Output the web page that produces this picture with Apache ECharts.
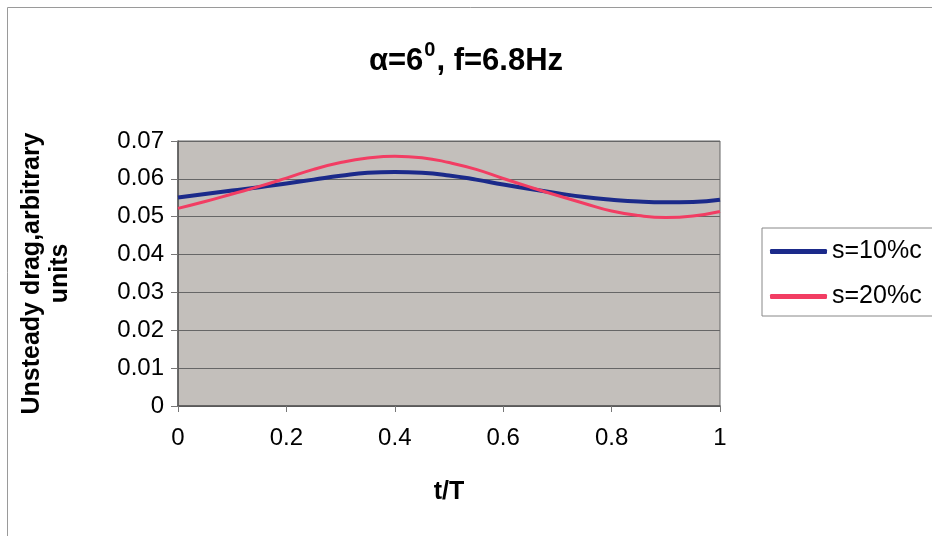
<!DOCTYPE html>
<html><head><meta charset="utf-8">
<script src="https://cdn.jsdelivr.net/npm/echarts@6/dist/echarts.min.js"></script>
<style>html,body{margin:0;padding:0;background:#fff}#c{width:932px;height:536px}</style>
</head><body><div id="c"></div>
<script>
const tValues = [0,0.05,0.1,0.15,0.2,0.25,0.3,0.35,0.4,0.45,0.5,0.55,0.6,0.65,0.7,0.75,0.8,0.85,0.9,0.95,1];
const s10 = [0.0551,0.0560,0.0569,0.0578,0.0588,0.0598,0.0608,0.0616,0.0618,0.0616,0.0609,0.0598,0.0585,0.0573,0.0562,0.0552,0.0545,0.0540,0.0538,0.0539,0.0545];
const s20 = [0.0522,0.0540,0.0560,0.0580,0.0602,0.0625,0.0643,0.0655,0.0660,0.0656,0.0643,0.0625,0.0601,0.0578,0.0556,0.0535,0.0515,0.0503,0.0498,0.0502,0.0514];
const seriesNames = ['s=10%c','s=20%c'];
const xTicks = {min:0,max:1,interval:0.2};
const yTicks = {min:0,max:0.07,interval:0.01};

const chart = echarts.init(document.getElementById('c'));
const font = 'Liberation Sans, Arial, sans-serif';
chart.setOption({
  animation:false,
  backgroundColor:'#fff',
  graphic:[{type:'rect',shape:{x:7.5,y:7.5,width:940,height:540},style:{fill:'none',stroke:'#9a9a9a',lineWidth:1}}],
  title:{
    text:'{a|α=6}{s|0}{a|, f=6.8Hz}',
    left:'center', top:35,
    textStyle:{rich:{
      a:{fontFamily:font,fontWeight:'bold',fontSize:31,color:'#000',verticalAlign:'bottom',lineHeight:37},
      s:{fontFamily:font,fontWeight:'bold',fontSize:20,color:'#000',verticalAlign:'top',lineHeight:37,padding:[0,1,17,1]}
    }}
  },
  grid:{left:178,right:212,top:141,bottom:130,show:true,backgroundColor:'#c3bfbb',borderColor:'#666',borderWidth:1},
  legend:{
    orient:'vertical', left:762, top:228, width:200,
    padding:[11,40,7,8], itemGap:20,
    borderColor:'#888', borderWidth:1, backgroundColor:'#fff',
    itemWidth:57, itemHeight:5, icon:'roundRect',
    textStyle:{fontFamily:font,fontSize:25,color:'#000'},
    data:seriesNames
  },
  xAxis:{
    type:'value', min:xTicks.min, max:xTicks.max, interval:xTicks.interval,
    name:'t/T', nameLocation:'middle', nameGap:74,
    nameTextStyle:{fontFamily:font,fontWeight:'bold',fontSize:25,color:'#000'},
    axisLine:{show:true,lineStyle:{color:'#555',width:1.5}},
    axisTick:{show:true,length:6,lineStyle:{color:'#777'}},
    axisLabel:{fontFamily:font,fontSize:24,color:'#000',margin:20},
    splitLine:{show:false}
  },
  yAxis:{
    type:'value', min:yTicks.min, max:yTicks.max, interval:yTicks.interval,
    name:'Unsteady drag,arbitrary\nunits', nameLocation:'middle', nameGap:104,
    nameTextStyle:{fontFamily:font,fontWeight:'bold',fontSize:25,color:'#000',lineHeight:28,align:'center'},
    axisLine:{show:true,lineStyle:{color:'#555',width:1.5}},
    axisTick:{show:true,length:7,lineStyle:{color:'#777'}},
    axisLabel:{fontFamily:font,fontSize:24,color:'#000',margin:14,formatter:v=>v===0?'0':v.toFixed(2)},
    splitLine:{show:true,lineStyle:{color:'#666',width:1}}
  },
  series:[
    {name:seriesNames[0],type:'line',smooth:true,showSymbol:false,data:tValues.map((t,i)=>[t,s10[i]]),lineStyle:{color:'#1b2a8a',width:4},itemStyle:{color:'#1b2a8a'}},
    {name:seriesNames[1],type:'line',smooth:true,showSymbol:false,data:tValues.map((t,i)=>[t,s20[i]]),lineStyle:{color:'#f23d63',width:3},itemStyle:{color:'#f23d63'}}
  ]
});
</script></body></html>
